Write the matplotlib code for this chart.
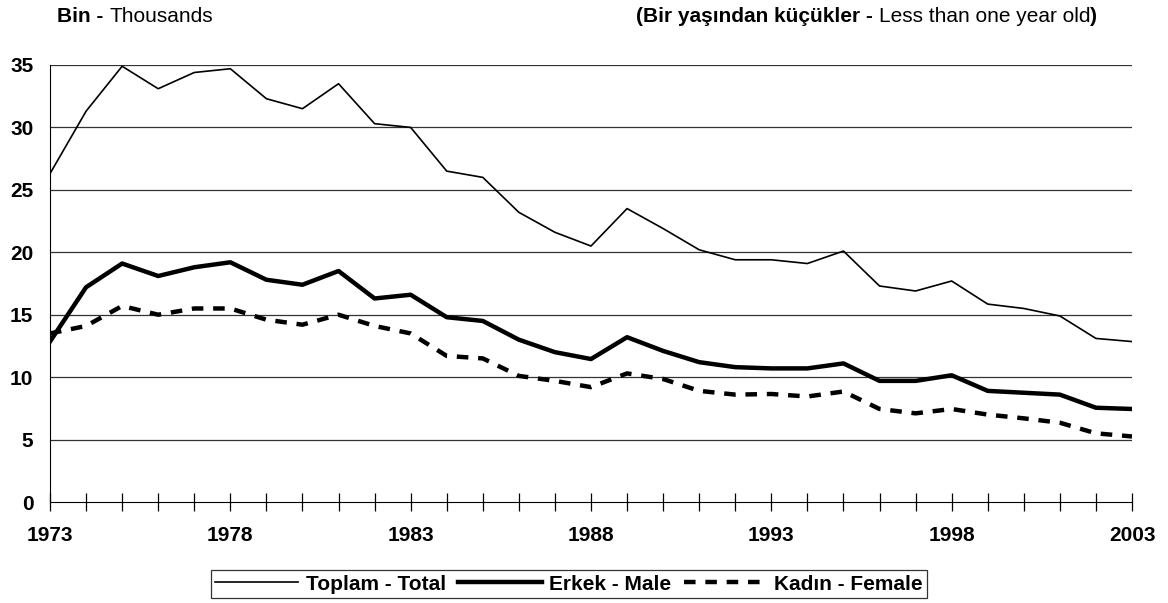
import matplotlib
matplotlib.use("Agg")
import matplotlib.pyplot as plt
from matplotlib.ticker import MultipleLocator

plt.rcParams["font.family"] = ["Liberation Sans", "DejaVu Sans"]

years = list(range(1973, 2004))

total = [26.3, 31.3, 34.9, 33.1, 34.4, 34.7, 32.3, 31.5, 33.5, 30.3,
         30.0, 26.5, 26.0, 23.2, 21.6, 20.5, 23.5, 21.9, 20.2, 19.4,
         19.4, 19.1, 20.1, 17.3, 16.9, 17.7, 15.85, 15.5, 14.9, 13.1, 12.85]

male = [12.85, 17.2, 19.1, 18.1, 18.8, 19.2, 17.8, 17.4, 18.5, 16.3,
        16.6, 14.8, 14.5, 13.0, 12.0, 11.45, 13.2, 12.1, 11.2, 10.8,
        10.7, 10.7, 11.1, 9.7, 9.7, 10.15, 8.9, 8.75, 8.6, 7.55, 7.45]

female = [13.5, 14.1, 15.7, 15.0, 15.5, 15.5, 14.6, 14.2, 15.0, 14.1,
          13.5, 11.7, 11.5, 10.1, 9.7, 9.2, 10.3, 9.85, 8.9, 8.6,
          8.65, 8.45, 8.85, 7.45, 7.1, 7.45, 7.0, 6.7, 6.35, 5.5, 5.25]

labels = ["Toplam - Total", "Erkek - Male", "Kadın - Female"]
major_years = [1973, 1978, 1983, 1988, 1993, 1998, 2003]

FS = 15
W, H = 1168, 603

fig = plt.figure(figsize=(W / 100, H / 100), dpi=100)
ax = fig.add_axes([50 / W, 1 - 502 / H, 1082 / W, 437 / H])

ax.plot(years, total, color="black", linewidth=1.2, label=labels[0])
ax.plot(years, male, color="black", linewidth=3.2, label=labels[1])
ax.plot(years, female, color="black", linewidth=3.2, dashes=(2.6, 2.2),
        dash_capstyle="butt", label=labels[2])

ax.set_xlim(1973, 2003)
ax.set_ylim(0, 35)
ax.set_yticks(range(0, 36, 5))
ax.set_xticks(major_years)
ax.xaxis.set_minor_locator(MultipleLocator(1))
for y in range(5, 36, 5):
    ax.axhline(y, color="#333333", linewidth=0.9, zorder=0)

for s in ["top", "right"]:
    ax.spines[s].set_visible(False)

ax.tick_params(axis="y", length=0, pad=12, labelsize=FS)
ax.tick_params(axis="x", which="both", direction="inout", length=13, width=0.9,
               labelsize=FS, pad=11)
for lbl in ax.get_xticklabels() + ax.get_yticklabels():
    lbl.set_fontweight("bold")


def header(x0, y0, parts):
    fig.canvas.draw()
    r = fig.canvas.get_renderer()
    x = x0
    for txt, w in parts:
        t = fig.text(x / W, 1 - y0 / H, txt, fontsize=FS, fontweight=w, va="center")
        x += t.get_window_extent(renderer=r).width


header(57, 17, [("Bin - ", "bold"), ("Thousands", "normal")])
header(636, 17, [("(Bir yaşından küçükler - ", "bold"),
                 ("Less than one year old", "normal"), (")", "bold")])

leg = fig.legend(loc="center", bbox_to_anchor=(569 / W, 1 - 584 / H), ncol=3, frameon=True,
                 fancybox=False, edgecolor="black", handlelength=4.0, columnspacing=0.6,
                 handletextpad=0.35, borderpad=0.2, borderaxespad=0,
                 prop={"weight": "bold", "size": FS})
leg.get_frame().set_linewidth(0.9)

fig.savefig("out.png", dpi=100)
